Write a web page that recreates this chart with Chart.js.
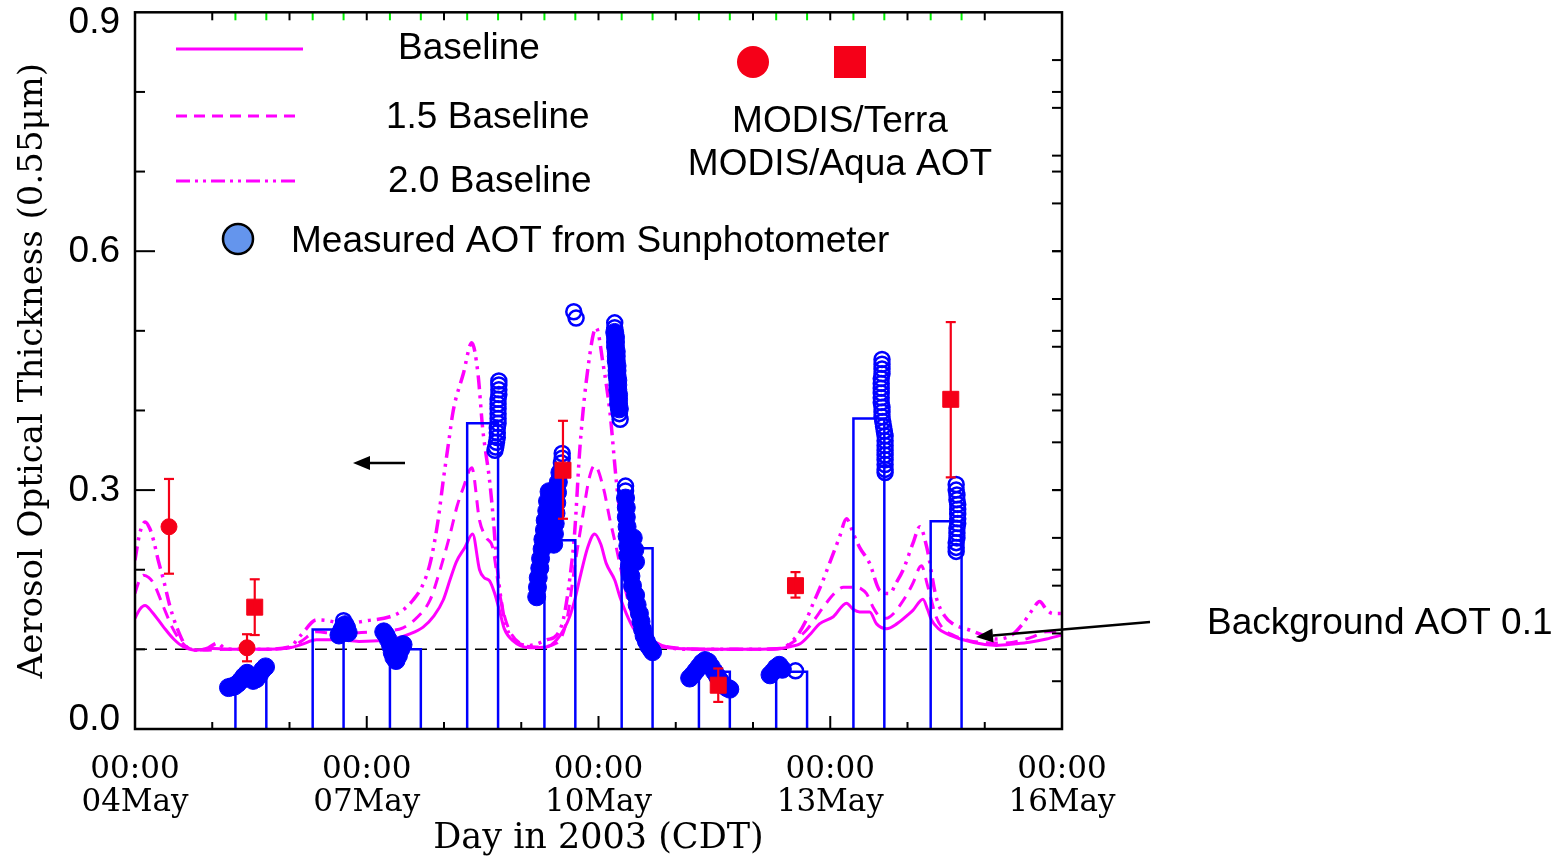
<!DOCTYPE html>
<html>
<head>
<meta charset="utf-8">
<title>Aerosol Optical Thickness, May 2003</title>
<script src="https://cdn.jsdelivr.net/npm/chart.js@4.4.1/dist/chart.umd.min.js"></script>
<style>
  html, body { margin: 0; padding: 0; background: #fff; }
  canvas { display: block; }
</style>
</head>
<body>
<canvas id="aotChart" width="1566" height="859"></canvas>
<script>
// x values are days after 04May 00:00 CDT
const xDateLabels = ['04May', '07May', '10May', '13May', '16May'];
const yTickValues = [0, 0.3, 0.6, 0.9];

// modelled AOT
const baselineDays = [0, 0.06, 0.13, 0.22, 0.37, 0.50, 0.63, 0.80, 1.0, 1.3, 1.6, 2.0, 2.15, 2.35, 2.6, 2.9, 3.2, 3.39, 3.55, 3.73,
  3.87, 3.99, 4.08, 4.16, 4.27, 4.37, 4.46, 4.52, 4.59, 4.65, 4.72, 4.78, 4.89, 5.11, 5.33, 5.46, 5.55, 5.63, 5.70, 5.76,
  5.86, 5.95, 6.03, 6.10, 6.21, 6.28, 6.36, 6.45, 6.54, 6.65, 6.79, 7.0, 7.5, 8.0, 8.35, 8.50, 8.61, 8.75, 8.86, 9.04,
  9.21, 9.30, 9.38, 9.51, 9.60, 9.73, 9.86, 10.0, 10.07, 10.20, 10.26, 10.31, 10.40, 10.50, 10.72, 11.0, 11.15, 11.4, 11.58, 11.8, 12.0];
const baselineAOT = [0.139, 0.150, 0.155, 0.147, 0.128, 0.113, 0.103, 0.099, 0.101, 0.100, 0.100, 0.102, 0.106, 0.112, 0.112, 0.110, 0.111, 0.114, 0.119, 0.128,
  0.142, 0.162, 0.188, 0.210, 0.228, 0.245, 0.200, 0.190, 0.186, 0.172, 0.148, 0.126, 0.111, 0.102, 0.103, 0.112, 0.125, 0.142, 0.165, 0.190,
  0.228, 0.245, 0.232, 0.208, 0.187, 0.165, 0.145, 0.127, 0.116, 0.108, 0.104, 0.101, 0.100, 0.100, 0.101, 0.104, 0.107, 0.120, 0.132, 0.141,
  0.158, 0.150, 0.147, 0.147, 0.132, 0.126, 0.132, 0.143, 0.149, 0.163, 0.150, 0.137, 0.126, 0.120, 0.112, 0.106, 0.105, 0.107, 0.109, 0.113, 0.118];

const scaled15Days = [0, 0.05, 0.11, 0.18, 0.24, 0.37, 0.48, 0.58, 0.71, 0.9, 1.2, 1.6, 2.0, 2.15, 2.35, 2.6, 2.9, 3.2, 3.47, 3.65,
  3.82, 3.95, 4.08, 4.17, 4.25, 4.36, 4.46, 4.55, 4.63, 4.72, 4.81, 4.98, 5.20, 5.46, 5.59, 5.69, 5.80, 5.88, 5.95, 6.06,
  6.15, 6.23, 6.34, 6.42, 6.49, 6.60, 6.75, 7.0, 7.5, 8.0, 8.35, 8.50, 8.69, 8.80, 8.91, 9.05, 9.17, 9.30, 9.40, 9.47,
  9.56, 9.64, 9.73, 9.82, 9.90, 10.0, 10.07, 10.18, 10.26, 10.37, 10.47, 10.59, 10.8, 10.94, 11.2, 11.37, 11.6, 11.8, 12.0];
const scaled15AOT = [0.170, 0.185, 0.193, 0.190, 0.183, 0.153, 0.128, 0.112, 0.101, 0.099, 0.100, 0.100, 0.102, 0.110, 0.122, 0.120, 0.121, 0.123, 0.127, 0.140,
  0.162, 0.200, 0.245, 0.280, 0.303, 0.328, 0.262, 0.240, 0.228, 0.170, 0.133, 0.108, 0.103, 0.108, 0.137, 0.203, 0.270, 0.315, 0.331, 0.304,
  0.262, 0.228, 0.178, 0.148, 0.128, 0.113, 0.107, 0.102, 0.100, 0.100, 0.101, 0.108, 0.124, 0.138, 0.153, 0.170, 0.178, 0.178, 0.176, 0.170,
  0.152, 0.141, 0.139, 0.145, 0.155, 0.170, 0.183, 0.205, 0.180, 0.141, 0.125, 0.118, 0.111, 0.109, 0.108, 0.109, 0.115, 0.122, 0.122];

const scaled20Days = [0, 0.06, 0.13, 0.19, 0.24, 0.30, 0.37, 0.45, 0.54, 0.67, 0.8, 0.95, 1.07, 1.15, 1.3, 1.6, 2.0, 2.15, 2.35, 2.5,
  2.7, 3.0, 3.3, 3.45, 3.60, 3.72, 3.82, 3.92, 3.99, 4.06, 4.12, 4.25, 4.36, 4.44, 4.50, 4.59, 4.64, 4.68, 4.76, 4.84,
  4.98, 5.11, 5.33, 5.46, 5.55, 5.63, 5.69, 5.76, 5.87, 5.97, 6.06, 6.15, 6.23, 6.32, 6.45, 6.55, 6.62, 6.75, 6.88, 7.2,
  7.7, 8.0, 8.35, 8.56, 8.68, 8.78, 8.90, 8.99, 9.12, 9.21, 9.30, 9.38, 9.51, 9.64, 9.77, 9.85, 9.94, 10.07, 10.16, 10.25,
  10.37, 10.48, 10.59, 10.81, 11.0, 11.15, 11.35, 11.49, 11.62, 11.71, 11.80, 11.88, 12.0];
const scaled20AOT = [0.212, 0.245, 0.260, 0.252, 0.237, 0.212, 0.187, 0.155, 0.128, 0.103, 0.099, 0.102, 0.108, 0.102, 0.100, 0.100, 0.103, 0.118, 0.137, 0.136,
  0.132, 0.136, 0.141, 0.148, 0.162, 0.180, 0.208, 0.260, 0.312, 0.360, 0.400, 0.446, 0.485, 0.446, 0.378, 0.312, 0.262, 0.212, 0.149, 0.120,
  0.107, 0.105, 0.112, 0.118, 0.140, 0.190, 0.245, 0.354, 0.458, 0.504, 0.458, 0.396, 0.312, 0.237, 0.162, 0.130, 0.120, 0.108, 0.103, 0.100,
  0.100, 0.100, 0.101, 0.116, 0.135, 0.158, 0.185, 0.208, 0.241, 0.264, 0.245, 0.228, 0.208, 0.174, 0.170, 0.183, 0.199, 0.233, 0.254, 0.228,
  0.166, 0.142, 0.132, 0.124, 0.117, 0.113, 0.118, 0.132, 0.150, 0.160, 0.150, 0.145, 0.145];

const backgroundAOT = 0.1;

// daytime windows (green ticks on top) and their mean AOT
const windowStart = [1.3, 2.3, 3.3, 4.3, 5.3, 6.3, 7.3, 8.3, 9.3, 10.3];
const windowEnd = [1.7, 2.7, 3.7, 4.7, 5.7, 6.7, 7.7, 8.7, 9.7, 10.7];
const windowMeanAOT = [0.065, 0.125, 0.100, 0.384, 0.237, 0.227, 0.072, 0.072, 0.390, 0.261];

// sunphotometer, [day, AOT]
const sun05May = [[1.21, 0.052], [1.25, 0.053], [1.29, 0.054], [1.33, 0.057], [1.37, 0.061], [1.41, 0.066], [1.45, 0.070],
  [1.49, 0.066], [1.53, 0.061], [1.57, 0.063], [1.61, 0.068], [1.65, 0.074], [1.69, 0.078]];
const sun06May = [[2.64, 0.118], [2.66, 0.121], [2.68, 0.125], [2.70, 0.129], [2.72, 0.131], [2.74, 0.127], [2.76, 0.121]];
const sun06MayOpen = [[2.70, 0.136]];
const sun07May = [[3.22, 0.122], [3.25, 0.118], [3.28, 0.112], [3.31, 0.104], [3.33, 0.096], [3.35, 0.090], [3.38, 0.086],
  [3.41, 0.092], [3.44, 0.100], [3.47, 0.106]];
const sun08MayOpen = [[4.71, 0.437], [4.71, 0.432], [4.71, 0.426], [4.71, 0.420], [4.70, 0.414], [4.70, 0.408], [4.70, 0.402],
  [4.70, 0.396], [4.70, 0.390], [4.70, 0.384], [4.69, 0.378], [4.69, 0.372], [4.69, 0.366], [4.68, 0.360], [4.67, 0.354], [4.66, 0.350]];
const sun09May = [[5.20, 0.166], [5.21, 0.178], [5.22, 0.190], [5.24, 0.202], [5.25, 0.214], [5.27, 0.226], [5.28, 0.238],
  [5.30, 0.250], [5.31, 0.262], [5.33, 0.274], [5.34, 0.286], [5.36, 0.298], [5.42, 0.232], [5.43, 0.245], [5.44, 0.258],
  [5.45, 0.271], [5.46, 0.284], [5.47, 0.297], [5.48, 0.310], [5.50, 0.322]];
const sun09MayOpen = [[5.52, 0.334], [5.53, 0.340], [5.53, 0.346], [5.68, 0.524], [5.71, 0.516]];
const sun10May = [[6.21, 0.498], [6.22, 0.492], [6.22, 0.486], [6.22, 0.480], [6.23, 0.474], [6.23, 0.468], [6.23, 0.462],
  [6.24, 0.456], [6.24, 0.450], [6.24, 0.444], [6.25, 0.438], [6.25, 0.432], [6.25, 0.426], [6.26, 0.420], [6.26, 0.414],
  [6.26, 0.408], [6.27, 0.402],
  [6.35, 0.290], [6.36, 0.278], [6.36, 0.266], [6.37, 0.254], [6.37, 0.242], [6.38, 0.230], [6.38, 0.218], [6.45, 0.240],
  [6.47, 0.225], [6.48, 0.210], [6.40, 0.205], [6.42, 0.192], [6.44, 0.180], [6.48, 0.168], [6.50, 0.156], [6.53, 0.145],
  [6.55, 0.135], [6.57, 0.125], [6.59, 0.117], [6.62, 0.110], [6.65, 0.104], [6.68, 0.100], [6.70, 0.097]];
const sun10MayOpen = [[6.21, 0.510], [6.21, 0.504], [6.27, 0.396], [6.28, 0.389], [6.35, 0.305], [6.35, 0.299]];
const sun11May = [[7.18, 0.064], [7.22, 0.068], [7.26, 0.073], [7.30, 0.078], [7.34, 0.083], [7.38, 0.086], [7.42, 0.084],
  [7.46, 0.078], [7.50, 0.072], [7.54, 0.066], [7.58, 0.060], [7.62, 0.055], [7.66, 0.052], [7.70, 0.050]];
const sun12May = [[8.22, 0.068], [8.26, 0.072], [8.30, 0.077], [8.34, 0.080], [8.38, 0.075]];
const sun12MayOpen = [[8.55, 0.073]];
const sun13MayOpen = [[9.67, 0.464], [9.67, 0.458], [9.67, 0.452], [9.67, 0.446], [9.66, 0.440], [9.66, 0.434], [9.66, 0.428],
  [9.66, 0.422], [9.66, 0.416], [9.66, 0.410], [9.67, 0.404], [9.67, 0.398], [9.67, 0.392], [9.68, 0.386], [9.69, 0.380],
  [9.70, 0.374], [9.71, 0.368], [9.71, 0.362], [9.71, 0.356], [9.71, 0.350], [9.71, 0.344], [9.71, 0.338], [9.71, 0.332],
  [9.71, 0.326], [9.71, 0.322]];
const sun14MayOpen = [[10.63, 0.307], [10.63, 0.300], [10.64, 0.294], [10.64, 0.288], [10.65, 0.282], [10.65, 0.276],
  [10.65, 0.270], [10.65, 0.264], [10.65, 0.258], [10.64, 0.252], [10.64, 0.246], [10.64, 0.240], [10.63, 0.234],
  [10.63, 0.228], [10.63, 0.223]];

// MODIS retrievals with error range
const terraDays = [0.44, 1.45];
const terraAOT = [0.254, 0.102];
const terraLow = [0.195, 0.085];
const terraHigh = [0.314, 0.119];
const aquaDays = [1.55, 5.54, 7.55, 8.55, 10.56];
const aquaAOT = [0.153, 0.325, 0.055, 0.180, 0.414];
const aquaLow = [0.118, 0.264, 0.034, 0.165, 0.316];
const aquaHigh = [0.188, 0.387, 0.076, 0.197, 0.511];

const MAGENTA = '#ff00ff';
const BLUE = '#0000ff';
const RED = '#f50018';

const toPoints = (xs, ys) => xs.map((x, i) => ({ x: x, y: ys[i] }));
const pairsToPoints = (groups) => groups.flat().map(p => ({ x: p[0], y: p[1] }));

const windowOutline = [];
windowStart.forEach((s, i) => {
  const h = windowMeanAOT[i];
  windowOutline.push({ x: s, y: 0 }, { x: s, y: h }, { x: windowEnd[i], y: h }, { x: windowEnd[i], y: 0 }, { x: windowEnd[i], y: null });
});

const sunFilled = pairsToPoints([sun05May, sun06May, sun07May, sun09May, sun10May, sun11May, sun12May]);
const sunOpen = pairsToPoints([sun06MayOpen, sun08MayOpen, sun09MayOpen, sun10MayOpen, sun12MayOpen, sun13MayOpen, sun14MayOpen]);

const segment = (ctx, x0, y0, x1, y1) => {
  ctx.beginPath();
  ctx.moveTo(x0, y0);
  ctx.lineTo(x1, y1);
  ctx.stroke();
};

const arrow = (ctx, x0, y0, x1, y1) => {
  const ang = Math.atan2(y1 - y0, x1 - x0);
  const len = 17, half = 7;
  const bx = x1 - len * Math.cos(ang), by = y1 - len * Math.sin(ang);
  segment(ctx, x0, y0, bx, by);
  ctx.beginPath();
  ctx.moveTo(x1, y1);
  ctx.lineTo(bx + half * Math.sin(ang), by - half * Math.cos(ang));
  ctx.lineTo(bx - half * Math.sin(ang), by + half * Math.cos(ang));
  ctx.closePath();
  ctx.fill();
};

const errorBars = {
  id: 'errorBars',
  afterDatasetsDraw(chart) {
    const { ctx, scales: { x, y } } = chart;
    ctx.save();
    ctx.strokeStyle = RED;
    ctx.lineWidth = 2.2;
    const draw = (days, lo, hi) => days.forEach((d, i) => {
      const px = x.getPixelForValue(d);
      const y0 = y.getPixelForValue(lo[i]), y1 = y.getPixelForValue(hi[i]);
      segment(ctx, px, y0, px, y1);
      segment(ctx, px - 5, y0, px + 5, y0);
      segment(ctx, px - 5, y1, px + 5, y1);
    });
    draw(terraDays, terraLow, terraHigh);
    draw(aquaDays, aquaLow, aquaHigh);
    ctx.restore();
  }
};

const frame = {
  id: 'frame',
  afterDraw(chart) {
    const { ctx, chartArea: a, scales: { x, y } } = chart;
    ctx.save();
    ctx.strokeStyle = '#000';
    ctx.lineWidth = 2;
    // left axis: every 0.1, longer at labelled values
    for (let i = 1; i < 9; i++) {
      const py = y.getPixelForValue(i / 10);
      segment(ctx, a.left, py, a.left + (i % 3 === 0 ? 20 : 10), py);
    }
    // right axis carries two tick sets
    for (let i = 1; i < 9; i++) {
      const py = y.getPixelForValue(i / 10);
      segment(ctx, a.right, py, a.right - 10, py);
    }
    for (let i = 1; i < 15; i++) {
      const py = y.getPixelForValue(i * 0.06);
      segment(ctx, a.right, py, a.right - 10, py);
    }
    // bottom and top: one tick per day
    for (let d = 1; d < 12; d++) {
      const px = x.getPixelForValue(d);
      segment(ctx, px, a.bottom, px, a.bottom - (d % 3 === 0 ? 13 : 7));
      segment(ctx, px, a.top, px, a.top + 8);
    }
    ctx.strokeStyle = '#00ee00';
    windowStart.concat(windowEnd).forEach(d => {
      const px = x.getPixelForValue(d);
      segment(ctx, px, a.top, px, a.top + 8);
    });
    ctx.strokeStyle = '#000';
    ctx.lineWidth = 2.5;
    ctx.strokeRect(a.left, a.top, a.right - a.left, a.bottom - a.top);

    // y labels, end labels kept inside the frame height
    ctx.fillStyle = '#000';
    ctx.font = '37px "Liberation Sans", Arial, sans-serif';
    ctx.textAlign = 'right';
    ctx.textBaseline = 'middle';
    yTickValues.forEach(v => {
      const py = Math.min(Math.max(y.getPixelForValue(v) + 1, a.top + 10), a.bottom - 9);
      ctx.fillText(v.toFixed(1), a.left - 15, py);
    });
    ctx.restore();
  }
};

const notes = {
  id: 'notes',
  afterDraw(chart) {
    const { ctx } = chart;
    ctx.save();
    // legend lines
    ctx.strokeStyle = MAGENTA;
    ctx.lineWidth = 3;
    segment(ctx, 176, 49, 303, 49);
    ctx.setLineDash([11, 7]);
    segment(ctx, 176, 116, 300, 116);
    ctx.setLineDash([14, 5, 3, 5, 3, 5]);
    segment(ctx, 176, 181, 300, 181);
    ctx.setLineDash([]);

    // legend symbols
    ctx.fillStyle = '#6495ed';
    ctx.strokeStyle = '#000';
    ctx.lineWidth = 2.5;
    ctx.beginPath();
    ctx.arc(238, 239, 15, 0, Math.PI * 2);
    ctx.fill();
    ctx.stroke();
    ctx.fillStyle = RED;
    ctx.beginPath();
    ctx.arc(753, 62, 16, 0, Math.PI * 2);
    ctx.fill();
    ctx.fillRect(834, 46, 32, 32);

    // legend text
    ctx.fillStyle = '#000';
    ctx.font = '37px "Liberation Sans", Arial, sans-serif';
    ctx.textBaseline = 'middle';
    ctx.textAlign = 'left';
    ctx.fillText('Baseline', 398, 49);
    ctx.fillText('1.5 Baseline', 386, 118);
    ctx.fillText('2.0 Baseline', 388, 182);
    ctx.fillText('Measured AOT from Sunphotometer', 291, 242);
    ctx.fillText('Background AOT 0.1', 1207, 624);
    ctx.textAlign = 'center';
    ctx.fillText('MODIS/Terra', 840, 122);
    ctx.fillText('MODIS/Aqua AOT', 840, 165);

    // arrows
    ctx.strokeStyle = '#000';
    ctx.fillStyle = '#000';
    ctx.lineWidth = 2.5;
    arrow(ctx, 405, 463, 353, 463);
    arrow(ctx, 1150, 622, 976, 637);
    ctx.restore();
  }
};

const ctx = document.getElementById('aotChart').getContext('2d');

new Chart(ctx, {
  type: 'line',
  data: {
    datasets: [
      {
        label: 'MODIS/Terra',
        data: toPoints(terraDays, terraAOT),
        showLine: false,
        pointStyle: 'circle',
        pointRadius: 8,
        pointBackgroundColor: RED,
        pointBorderColor: RED,
        pointBorderWidth: 1
      },
      {
        label: 'MODIS/Aqua',
        data: toPoints(aquaDays, aquaAOT),
        showLine: false,
        pointStyle: 'rect',
        pointRadius: 11.3,
        pointBackgroundColor: RED,
        pointBorderColor: RED,
        pointBorderWidth: 1
      },
      {
        label: 'Sunphotometer (sparse)',
        data: sunOpen,
        showLine: false,
        pointRadius: 7.5,
        pointBackgroundColor: 'rgba(255,255,255,0)',
        pointBorderColor: BLUE,
        pointBorderWidth: 2.5
      },
      {
        label: 'Sunphotometer',
        data: sunFilled,
        showLine: false,
        pointRadius: 9,
        pointBackgroundColor: BLUE,
        pointBorderColor: BLUE,
        pointBorderWidth: 1
      },
      {
        label: 'Daytime mean',
        data: windowOutline,
        borderColor: BLUE,
        borderWidth: 2.5,
        pointRadius: 0,
        tension: 0,
        spanGaps: false
      },
      {
        label: 'Baseline',
        data: toPoints(baselineDays, baselineAOT),
        borderColor: MAGENTA,
        borderWidth: 3,
        pointRadius: 0,
        cubicInterpolationMode: 'monotone'
      },
      {
        label: '1.5 Baseline',
        data: toPoints(scaled15Days, scaled15AOT),
        borderColor: MAGENTA,
        borderWidth: 3,
        borderDash: [12, 8],
        pointRadius: 0,
        cubicInterpolationMode: 'monotone'
      },
      {
        label: '2.0 Baseline',
        data: toPoints(scaled20Days, scaled20AOT),
        borderColor: MAGENTA,
        borderWidth: 3.5,
        borderDash: [14, 6, 3, 6, 3, 6],
        pointRadius: 0,
        cubicInterpolationMode: 'monotone'
      },
      {
        label: 'Background',
        data: [{ x: 0, y: backgroundAOT }, { x: 12, y: backgroundAOT }],
        borderColor: '#000',
        borderWidth: 1.5,
        borderDash: [12, 8],
        pointRadius: 0
      }
    ]
  },
  options: {
    responsive: false,
    animation: false,
    events: [],
    layout: { padding: { left: 0, top: 11, right: 504, bottom: 0 } },
    plugins: {
      legend: { display: false },
      tooltip: { enabled: false }
    },
    scales: {
      x: {
        type: 'linear',
        min: 0,
        max: 12,
        grid: { display: false, drawTicks: false },
        border: { display: false },
        ticks: {
          stepSize: 3,
          autoSkip: false,
          maxRotation: 0,
          padding: 24,
          color: '#000',
          font: { family: '"DejaVu Serif", serif', size: 31, lineHeight: 1.07 },
          callback: (value) => value % 3 === 0 ? ['00:00', xDateLabels[value / 3]] : ''
        },
        title: {
          display: true,
          text: 'Day in 2003 (CDT)',
          color: '#000',
          font: { family: '"DejaVu Serif", serif', size: 35, lineHeight: 1.0 },
          padding: { top: 0, bottom: 3 }
        },
        afterFit: (scale) => {
          scale.height = 130;
          scale.paddingLeft = 0;
          scale.paddingRight = 0;
        }
      },
      y: {
        min: 0,
        max: 0.9,
        grid: { display: false, drawTicks: false },
        border: { display: false },
        ticks: { display: false, stepSize: 0.3 },
        title: {
          display: true,
          text: 'Aerosol Optical Thickness (0.55\u03bcm)',
          color: '#000',
          font: { family: '"DejaVu Serif", serif', size: 34 },
          padding: { top: 13, bottom: 0 }
        },
        afterFit: (scale) => {
          scale.width = 135;
          scale.paddingTop = 0;
          scale.paddingBottom = 0;
        }
      }
    }
  },
  plugins: [errorBars, frame, notes]
});
</script>
</body>
</html>
